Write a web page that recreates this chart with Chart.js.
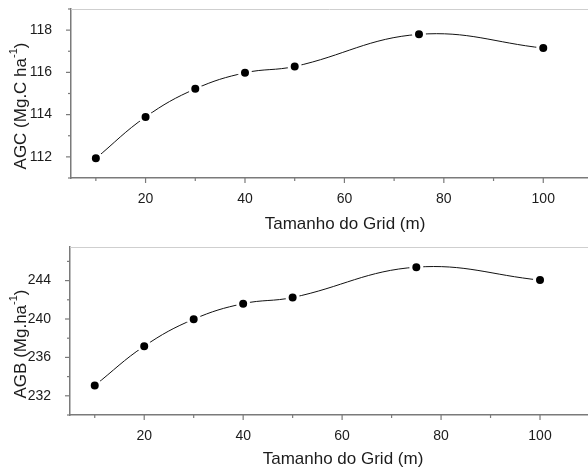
<!DOCTYPE html>
<html>
<head>
<meta charset="utf-8">
<script src="https://cdn.jsdelivr.net/npm/chart.js@4.4.1/dist/chart.umd.min.js"></script>
<style>
  html, body { margin: 0; padding: 0; background: #fff; overflow: hidden; }
  canvas { display: block; }
</style>
</head>
<body>
<canvas id="agcChart" width="588" height="237"></canvas>
<canvas id="agbChart" width="588" height="234"></canvas>
<script>
// dados (tamanho do grid em m)
const gridSizes = [10, 20, 30, 40, 50, 75, 100];
const agcValues = [111.93, 113.89, 115.22, 115.98, 116.28, 117.8, 117.15];
const agbValues = [233.07, 237.17, 239.98, 241.6, 242.24, 245.4, 244.05];

// marcas dos eixos
const xMajorTicks = [20, 40, 60, 80, 100];
const xMinorTicks = [10, 30, 50, 70, 90];
const agcMajorTicks = [112, 114, 116, 118];
const agcMinorTicks = [111, 113, 115, 117, 119];
const agbMajorTicks = [232, 236, 240, 244];
const agbMinorTicks = [230, 234, 238, 242, 246];

const AXIS_COLOR = '#7a7a7a';
const TEXT_COLOR = '#1c1c1c';
const FONT = '"Liberation Sans", Arial, sans-serif';

function strokeLine(ctx, x1, y1, x2, y2) {
    ctx.beginPath();
    ctx.moveTo(x1, y1);
    ctx.lineTo(x2, y2);
    ctx.stroke();
}

// ticks menores/maiores, borda superior e títulos dos eixos (com sobrescrito)
const axisDecor = {
    id: 'axisDecor',
    afterDraw(chart, args, opts) {
        const { ctx, chartArea: a, scales: { x, y } } = chart;
        ctx.save();

        ctx.strokeStyle = '#cfcfcf';
        ctx.lineWidth = 1;
        strokeLine(ctx, a.left, a.top + 0.5, a.right, a.top + 0.5);

        ctx.strokeStyle = AXIS_COLOR;
        ctx.lineWidth = 1.2;
        opts.xMajor.forEach(v => { const px = x.getPixelForValue(v); strokeLine(ctx, px, a.bottom, px, a.bottom + 5); });
        opts.xMinor.forEach(v => { const px = x.getPixelForValue(v); strokeLine(ctx, px, a.bottom, px, a.bottom + 3); });
        opts.yMajor.forEach(v => { const py = y.getPixelForValue(v); strokeLine(ctx, a.left, py, a.left - 5, py); });
        opts.yMinor.forEach(v => { const py = y.getPixelForValue(v); strokeLine(ctx, a.left, py, a.left - 3, py); });

        // título do eixo x
        ctx.fillStyle = TEXT_COLOR;
        ctx.font = '17px ' + FONT;
        ctx.textAlign = 'center';
        ctx.textBaseline = 'middle';
        ctx.fillText(opts.xTitle, opts.xTitlePos[0], opts.xTitlePos[1]);

        // título do eixo y, girado
        ctx.translate(opts.yTitlePos[0], opts.yTitlePos[1]);
        ctx.rotate(-Math.PI / 2);
        ctx.textAlign = 'left';
        const mainFont = '17px ' + FONT;
        const supFont = '11px ' + FONT;
        ctx.font = mainFont;
        const w1 = ctx.measureText(opts.yTitle[0]).width;
        const w3 = ctx.measureText(opts.yTitle[2]).width;
        ctx.font = supFont;
        const w2 = ctx.measureText(opts.yTitle[1]).width;
        let cx = -(w1 + w2 + w3) / 2;
        ctx.font = mainFont;
        ctx.fillText(opts.yTitle[0], cx, 0);
        cx += w1;
        ctx.font = supFont;
        ctx.fillText(opts.yTitle[1], cx, -7);
        cx += w2;
        ctx.font = mainFont;
        ctx.fillText(opts.yTitle[2], cx, 0);

        ctx.restore();
    }
};

function buildChart(canvasId, values, cfg) {
    const ctx = document.getElementById(canvasId).getContext('2d');
    return new Chart(ctx, {
        type: 'line',
        data: {
            datasets: [{
                data: gridSizes.map((g, i) => ({ x: g, y: values[i] })),
                borderColor: '#111',
                borderWidth: 1,
                tension: 0.4,
                pointRadius: 5.5,
                pointBackgroundColor: '#000',
                pointBorderColor: '#fff',
                pointBorderWidth: 3,
                clip: false
            }]
        },
        options: {
            responsive: false,
            animation: false,
            devicePixelRatio: 1,
            layout: { autoPadding: false, padding: { top: cfg.top, left: 0, right: 0, bottom: 0 } },
            plugins: {
                legend: { display: false },
                tooltip: { enabled: false },
                axisDecor: cfg.decor
            },
            scales: {
                x: {
                    type: 'linear',
                    min: 5,
                    max: cfg.xMax,
                    afterBuildTicks: s => { s.ticks = xMajorTicks.map(v => ({ value: v })); },
                    afterFit: s => { s.height = cfg.xHeight; s.paddingLeft = 0; s.paddingRight = 0; },
                    grid: { display: false },
                    border: { display: true, color: AXIS_COLOR, width: 1.5 },
                    ticks: { padding: 5, color: TEXT_COLOR, font: { family: FONT, size: 14 } }
                },
                y: {
                    type: 'linear',
                    min: cfg.yMin,
                    max: cfg.yMax,
                    afterBuildTicks: s => { s.ticks = cfg.decor.yMajor.map(v => ({ value: v })); },
                    afterFit: s => { s.width = cfg.yWidth; s.paddingTop = 0; s.paddingBottom = 0; },
                    grid: { display: false },
                    border: { display: true, color: AXIS_COLOR, width: 1.5 },
                    ticks: { padding: 11, color: TEXT_COLOR, font: { family: FONT, size: 14 } }
                }
            }
        },
        plugins: [axisDecor]
    });
}

buildChart('agcChart', agcValues, {
    top: 9, xHeight: 59, yWidth: 71, xMax: 109, yMin: 111, yMax: 119,
    decor: {
        xMajor: xMajorTicks, xMinor: xMinorTicks,
        yMajor: agcMajorTicks, yMinor: agcMinorTicks,
        xTitle: 'Tamanho do Grid (m)', xTitlePos: [345, 224],
        yTitle: ['AGC (Mg.C ha', '-1', ')'], yTitlePos: [21, 106]
    }
});

buildChart('agbChart', agbValues, {
    top: 10, xHeight: 56, yWidth: 70, xMax: 109.7, yMin: 230, yMax: 247.5,
    decor: {
        xMajor: xMajorTicks, xMinor: xMinorTicks,
        yMajor: agbMajorTicks, yMinor: agbMinorTicks,
        xTitle: 'Tamanho do Grid (m)', xTitlePos: [343, 222],
        yTitle: ['AGB (Mg.ha', '-1', ')'], yTitlePos: [21, 107]
    }
});
</script>
</body>
</html>
